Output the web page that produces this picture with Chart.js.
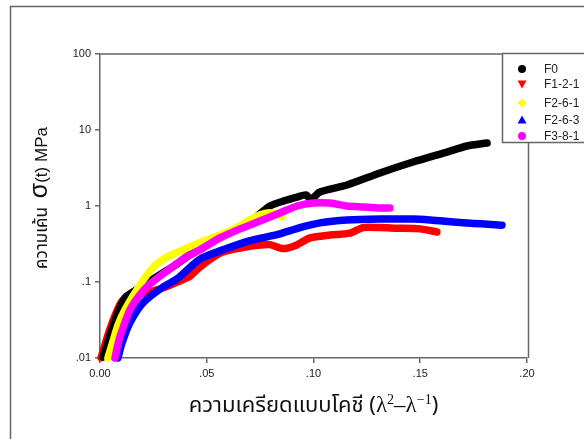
<!DOCTYPE html>
<html>
<head>
<meta charset="utf-8">
<script src="https://cdn.jsdelivr.net/npm/chart.js@4.4.1/dist/chart.umd.min.js"></script>
<style>
  html, body { margin: 0; padding: 0; background: #fff; }
  canvas { display: block; }
</style>
</head>
<body>
<canvas id="stressChart" width="584" height="439"></canvas>
<script>
// Series names and colours
const seriesNames = ['F0', 'F1-2-1', 'F2-6-1', 'F2-6-3', 'F3-8-1'];
const seriesColors = ['#000000', '#ff0000', '#ffff00', '#0000ff', '#ff00ff'];
const markerShapes = ['circle', 'triangleDown', 'diamond', 'triangle', 'circle'];

// Values (strain, stress MPa)
const f0X = [0.0014, 0.0047, 0.0084, 0.0117, 0.0155, 0.0211, 0.0281, 0.0351, 0.0422, 0.0515, 0.0609, 0.0703, 0.0796, 0.0867, 0.0923, 0.0965, 0.0988, 0.103, 0.1157, 0.1311, 0.1466, 0.1625, 0.1719, 0.1813];
const f0Y = [0.0103, 0.020, 0.040, 0.062, 0.074, 0.094, 0.125, 0.165, 0.23, 0.33, 0.45, 0.62, 1.0, 1.18, 1.31, 1.40, 1.22, 1.53, 1.89, 2.72, 3.79, 5.13, 6.16, 6.75];

const f121X = [0.0005, 0.0037, 0.007, 0.0103, 0.014, 0.0211, 0.0281, 0.0351, 0.0422, 0.0468, 0.0562, 0.0656, 0.0749, 0.0796, 0.0857, 0.0913, 0.0984, 0.1077, 0.1171, 0.1232, 0.1311, 0.1391, 0.1499, 0.1578];
const f121Y = [0.0101, 0.020, 0.036, 0.056, 0.064, 0.072, 0.081, 0.097, 0.12, 0.158, 0.24, 0.28, 0.307, 0.31, 0.275, 0.30, 0.38, 0.415, 0.44, 0.52, 0.52, 0.51, 0.50, 0.455];

const f261X = [0.0037, 0.0056, 0.0084, 0.0117, 0.0173, 0.0234, 0.0295, 0.0375, 0.0468, 0.0562, 0.0656, 0.0717, 0.0773, 0.082, 0.0852];
const f261Y = [0.010, 0.0149, 0.027, 0.043, 0.079, 0.14, 0.20, 0.255, 0.33, 0.415, 0.55, 0.70, 0.80, 0.80, 0.72];

const f263X = [0.0084, 0.0103, 0.014, 0.0201, 0.0295, 0.0361, 0.0468, 0.0576, 0.0703, 0.0829, 0.0937, 0.103, 0.1157, 0.1311, 0.1466, 0.1546, 0.17, 0.1883];
const f263Y = [0.010, 0.0157, 0.029, 0.053, 0.086, 0.11, 0.20, 0.265, 0.35, 0.42, 0.52, 0.60, 0.654, 0.674, 0.674, 0.654, 0.60, 0.56];

const f381X = [0.007, 0.0089, 0.0108, 0.014, 0.0187, 0.0234, 0.0314, 0.0398, 0.0468, 0.0562, 0.0656, 0.0749, 0.0843, 0.0923, 0.0998, 0.1077, 0.1157, 0.1232, 0.1311, 0.1358];
const f381Y = [0.010, 0.0173, 0.025, 0.043, 0.068, 0.094, 0.14, 0.207, 0.265, 0.38, 0.50, 0.635, 0.81, 1.0, 1.095, 1.095, 1.0, 0.97, 0.94, 0.94];

const seriesX = [f0X, f121X, f261X, f263X, f381X];
const seriesY = [f0Y, f121Y, f261Y, f263Y, f381Y];
// which curve lies on top (lower = drawn later)
const drawOrder = [3, 4, 2, 1, 0];

// Tick values and labels
const xTickValues = [0, 0.05, 0.10, 0.15, 0.20];
const xTickLabels = ['0.00', '.05', '.10', '.15', '.20'];
const yTickValues = [0.01, 0.1, 1, 10, 100];
const yTickLabels = ['.01', '.1', '1', '10', '100'];

const axisColor = '#666';
const thaiFont = "Tahoma, 'Noto Sans Thai', 'Noto Sans', 'DejaVu Sans', sans-serif";

function drawMarker(ctx, shape, x, y, color) {
    const r = 4.5;
    ctx.fillStyle = color;
    ctx.beginPath();
    if (shape === 'circle') {
        ctx.arc(x, y, r - 0.5, 0, Math.PI * 2);
    } else if (shape === 'triangle') {
        ctx.moveTo(x, y - r); ctx.lineTo(x + r, y + r * 0.8); ctx.lineTo(x - r, y + r * 0.8);
    } else if (shape === 'triangleDown') {
        ctx.moveTo(x, y + r); ctx.lineTo(x + r, y - r * 0.8); ctx.lineTo(x - r, y - r * 0.8);
    } else if (shape === 'diamond') {
        ctx.moveTo(x, y - r); ctx.lineTo(x + r, y); ctx.lineTo(x, y + r); ctx.lineTo(x - r, y);
    }
    ctx.closePath();
    ctx.fill();
}

// draw a row of text pieces with different fonts, centred on cx
function drawPieces(ctx, pieces, cx, baseY) {
    let total = 0;
    pieces.forEach(p => { ctx.font = p.font; total += ctx.measureText(p.text).width; });
    let x = cx - total / 2;
    pieces.forEach(p => {
        ctx.font = p.font;
        ctx.fillText(p.text, x, baseY - (p.rise || 0));
        x += ctx.measureText(p.text).width;
    });
}

const decorations = {
    id: 'decorations',
    beforeDraw(chart) {
        const ctx = chart.ctx;
        ctx.save();
        ctx.fillStyle = '#fff';
        ctx.fillRect(0, 0, chart.width, chart.height);
        // outer frame
        ctx.strokeStyle = axisColor;
        ctx.lineWidth = 1.5;
        ctx.beginPath();
        ctx.moveTo(10.5, chart.height);
        ctx.lineTo(10.5, 6.5);
        ctx.lineTo(chart.width, 6.5);
        ctx.stroke();
        ctx.restore();
    },
    afterDraw(chart) {
        const ctx = chart.ctx;
        const a = chart.chartArea;
        ctx.save();
        // top and right sides of plot box
        ctx.strokeStyle = axisColor;
        ctx.lineWidth = 1.5;
        ctx.beginPath();
        ctx.moveTo(a.left, a.top);
        ctx.lineTo(a.right + 1.5, a.top);
        ctx.lineTo(a.right + 1.5, a.bottom);
        ctx.stroke();

        // legend box
        ctx.fillStyle = '#fff';
        ctx.fillRect(502, 53, 120, 89);
        ctx.strokeRect(502.5, 53.5, 120, 89);
        const rows = [69, 84, 103, 120, 136];
        ctx.font = "12px 'Liberation Sans', Arial, sans-serif";
        ctx.textBaseline = 'middle';
        seriesNames.forEach((name, i) => {
            drawMarker(ctx, markerShapes[i], 522, rows[i], seriesColors[i]);
            ctx.fillStyle = '#222';
            ctx.fillText(name, 544, rows[i] + 1);
        });

        // axis titles
        ctx.fillStyle = '#111';
        ctx.textBaseline = 'alphabetic';
        drawPieces(ctx, [
            { text: 'ความเครียดแบบโคชี (', font: '22px ' + thaiFont },
            { text: 'λ', font: "23px 'Liberation Serif', serif" },
            { text: '2', font: "14px 'Liberation Serif', serif", rise: 8 },
            { text: '–λ', font: "23px 'Liberation Serif', serif" },
            { text: '−1', font: "14px 'Liberation Serif', serif", rise: 8 },
            { text: ')', font: '22px ' + thaiFont }
        ], (a.left + a.right) / 2, 412);

        ctx.translate(47, 198);
        ctx.rotate(-Math.PI / 2);
        drawPieces(ctx, [
            { text: 'ความเค้น  ', font: '17px ' + thaiFont },
            { text: 'σ', font: "25px 'Liberation Sans', sans-serif" },
            { text: '(t) MPa', font: "17px 'Liberation Sans', sans-serif" }
        ], 0, 0);
        ctx.restore();
    }
};

const datasets = seriesNames.map((name, i) => ({
    label: name,
    data: seriesX[i].map((x, j) => ({ x: x, y: seriesY[i][j] })),
    borderColor: seriesColors[i],
    backgroundColor: seriesColors[i],
    borderWidth: 7.5,
    pointRadius: 0,
    tension: 0.25,
    borderCapStyle: 'round',
    borderJoinStyle: 'round',
    clip: false,
    order: drawOrder[i]
}));

const tickFont = { family: "'Liberation Sans', Arial, sans-serif", size: 11 };

new Chart(document.getElementById('stressChart'), {
    type: 'line',
    data: { datasets: datasets },
    plugins: [decorations],
    options: {
        responsive: false,
        animation: false,
        layout: { padding: { left: 0, top: 54, right: 57, bottom: 0 } },
        plugins: { legend: { display: false }, tooltip: { enabled: false } },
        scales: {
            x: {
                type: 'linear',
                min: 0,
                max: 0.2,
                afterBuildTicks: scale => { scale.ticks = xTickValues.map(v => ({ value: v })); },
                afterFit: scale => { scale.height = 81; },
                ticks: {
                    callback: (v, i) => xTickLabels[i],
                    font: tickFont,
                    color: '#222',
                    padding: 4,
                    maxRotation: 0
                },
                grid: { drawOnChartArea: false, drawTicks: true, tickLength: 5, color: axisColor, lineWidth: 1.5 },
                border: { color: axisColor, width: 1.5 }
            },
            y: {
                type: 'logarithmic',
                min: 0.01,
                max: 100,
                afterBuildTicks: scale => { scale.ticks = yTickValues.map(v => ({ value: v })); },
                afterFit: scale => { scale.width = 100; },
                ticks: {
                    callback: (v, i) => yTickLabels[i],
                    font: tickFont,
                    color: '#222',
                    padding: 4
                },
                grid: { drawOnChartArea: false, drawTicks: true, tickLength: 5, color: axisColor, lineWidth: 1.5 },
                border: { color: axisColor, width: 1.5 }
            }
        }
    }
});
</script>
</body>
</html>
